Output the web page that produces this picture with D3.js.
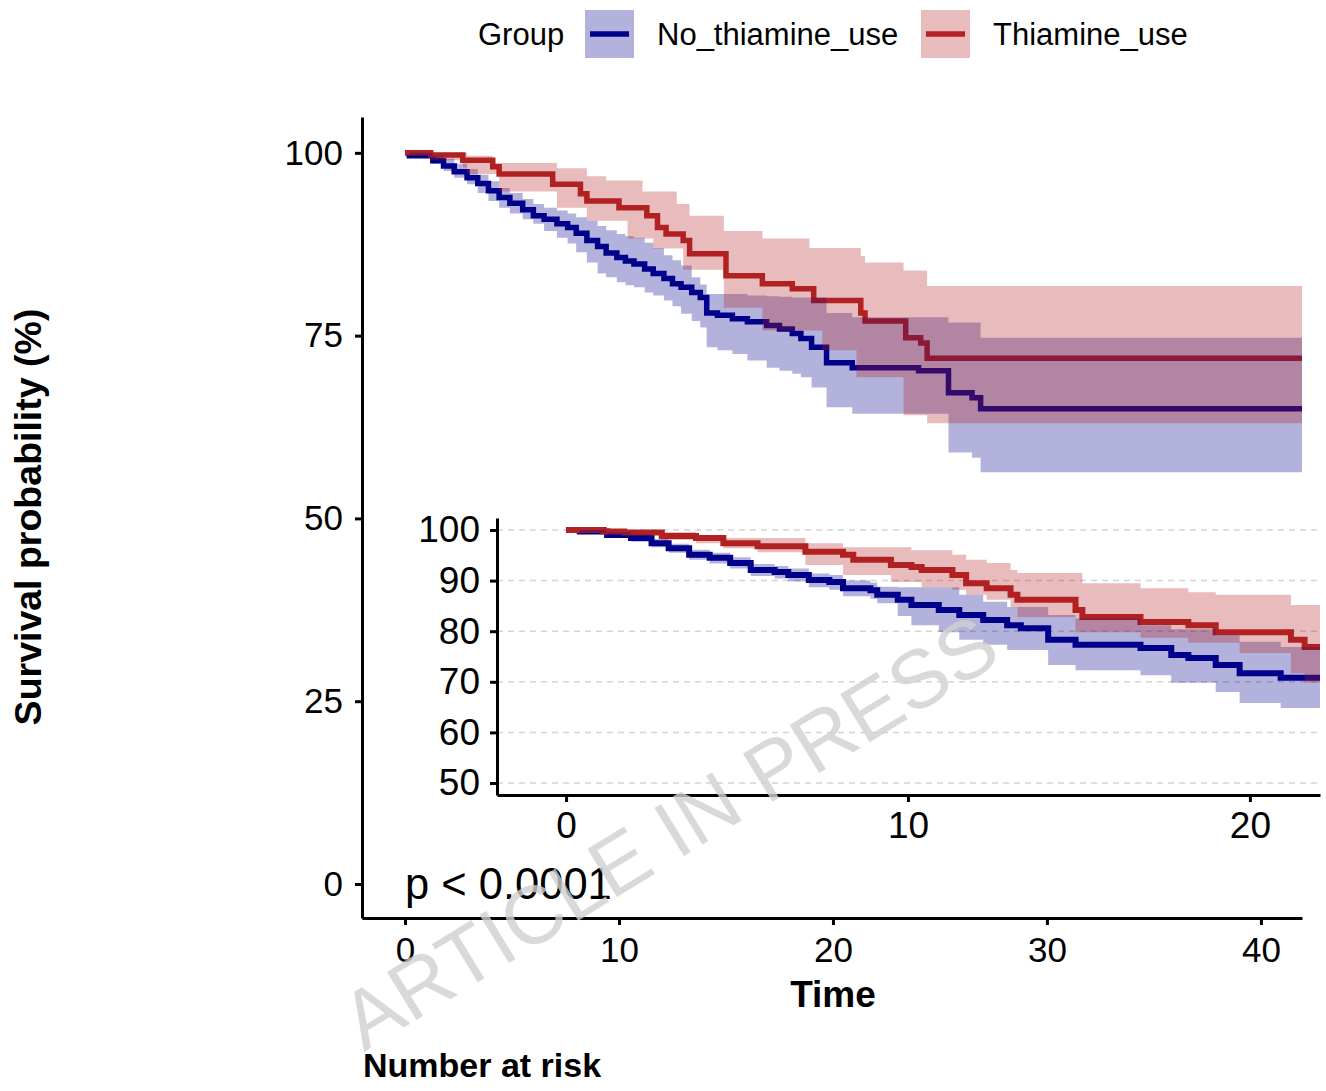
<!DOCTYPE html>
<html>
<head>
<meta charset="utf-8">
<script src="https://cdn.jsdelivr.net/npm/d3@7"></script>
<style>
  body { margin: 0; background: #fff; }
  text { font-family: "Liberation Sans", Arial, sans-serif; }
</style>
</head>
<body>
<svg width="1326" height="1091"></svg>
<script>
// groups and colours
var groups = ["No_thiamine_use", "Thiamine_use"];
var colors = ["#00008B", "#B22222"];

var mainTicksX = [0, 10, 20, 30, 40];
var mainTicksY = [0, 25, 50, 75, 100];
var insetTicksX = [0, 10, 20];
var insetTicksY = [50, 60, 70, 80, 90, 100];

// main plot, No_thiamine_use
var noTimeMain  = [0, 0.2, 1.3, 1.8, 2.3, 2.9, 3.4, 3.9, 4.4, 4.9, 5.5, 6.0, 6.5, 7.1, 7.6, 8.0, 8.5, 9.0, 9.4, 9.9, 10.3, 10.7, 11.2, 11.6, 12.1, 12.5, 12.9, 13.4, 13.8, 14.1, 14.6, 15.3, 16.0, 16.9, 17.5, 18.1, 18.5, 19.0, 19.7, 20.9, 24.0, 25.4, 26.5, 26.9, 41.92];
var noSurvMain  = [100, 99.6, 98.9, 98.2, 97.4, 96.6, 95.8, 94.8, 93.9, 93.1, 92.2, 91.4, 90.9, 90.3, 89.8, 89.0, 88.0, 87.2, 86.3, 85.7, 85.2, 84.8, 84.1, 83.5, 82.8, 82.1, 81.6, 80.9, 80.2, 78.1, 77.8, 77.3, 76.9, 76.4, 75.9, 75.3, 74.6, 73.4, 71.3, 70.6, 70.2, 67.2, 66.5, 65.0, 65.0];
var noUpperMain = [100, 100, 99.6, 99.2, 98.5, 97.8, 97.0, 96.1, 95.2, 94.5, 93.7, 93.0, 92.5, 92.1, 91.7, 91.2, 90.7, 90.0, 89.4, 88.9, 88.6, 88.4, 87.7, 87.0, 86.0, 85.3, 84.6, 83.0, 82.0, 80.7, 80.7, 80.7, 80.5, 80.4, 80.3, 80.2, 80.2, 80.2, 78.1, 77.5, 77.5, 76.8, 76.8, 74.7, 74.7];
var noLowerMain = [100, 99.3, 98.5, 97.5, 96.6, 95.7, 94.5, 93.4, 92.5, 91.7, 90.9, 90.3, 89.3, 88.4, 87.6, 86.4, 85.0, 83.5, 83.0, 82.3, 81.9, 81.6, 80.9, 80.5, 79.8, 79.0, 78.0, 77.0, 76.1, 73.4, 73.0, 72.5, 71.6, 70.6, 70.2, 69.8, 69.3, 67.9, 65.2, 64.3, 64.3, 59.0, 58.3, 56.3, 56.3];

// main plot, Thiamine_use
var thTimeMain  = [0, 1.2, 2.7, 2.9, 4.1, 4.4, 6.9, 7.1, 8.2, 8.5, 9.4, 10.0, 10.4, 11.1, 11.3, 11.6, 11.8, 12.2, 12.7, 13.0, 13.3, 14.9, 15.0, 16.7, 18.1, 18.9, 19.1, 19.5, 21.1, 21.3, 21.5, 23.3, 23.4, 24.1, 24.4, 41.92];
var thSurvMain  = [100, 99.7, 99.0, 99.0, 98.1, 97.1, 95.7, 95.7, 94.4, 93.4, 93.4, 92.5, 92.5, 92.5, 91.4, 91.4, 89.8, 88.9, 88.9, 88.0, 86.2, 86.2, 83.2, 82.1, 81.4, 81.4, 79.8, 79.8, 79.8, 78.1, 77.0, 77.0, 74.7, 74.0, 71.9, 71.9];
var thUpperMain = [100, 100, 100, 99.6, 98.6, 98.6, 98.6, 97.9, 97.9, 96.8, 96.2, 96.2, 96.2, 94.7, 94.7, 94.7, 94.7, 94.7, 93.0, 93.0, 91.4, 89.3, 89.3, 88.3, 88.3, 87.0, 87.0, 87.0, 87.0, 85.9, 85.0, 83.9, 83.9, 83.9, 81.8, 81.8];
var thLowerMain = [100, 99.0, 98.0, 97.1, 97.1, 94.7, 94.7, 92.5, 92.5, 90.7, 90.7, 90.7, 88.3, 88.3, 88.3, 86.9, 86.9, 86.9, 86.9, 84.0, 84.0, 78.8, 78.8, 75.7, 75.7, 75.7, 75.7, 73.0, 69.3, 69.3, 69.3, 64.1, 64.1, 64.1, 63.0, 63.0];

// inset, No_thiamine_use
var noTimeInset  = [0, 0.4, 1.2, 1.9, 2.5, 3.0, 3.6, 4.2, 4.8, 5.4, 6.1, 6.5, 7.1, 7.7, 8.1, 8.9, 9.1, 9.7, 10.1, 10.9, 11.5, 12.2, 12.9, 13.3, 14.1, 14.9, 16.8, 17.7, 18.2, 19.0, 19.7, 20.9, 22.05];
var noSurvInset  = [100, 99.7, 99.0, 98.4, 97.4, 96.4, 95.1, 94.5, 93.5, 92.1, 91.7, 91.1, 90.1, 89.7, 88.5, 88.1, 87.2, 86.2, 85.2, 84.2, 83.2, 82.2, 81.2, 80.6, 78.3, 77.3, 76.7, 75.3, 74.7, 73.3, 71.7, 70.8, 70.8];
var noUpperInset = [100, 100, 99.6, 99.1, 98.2, 97.3, 96.1, 95.5, 94.6, 93.3, 92.9, 92.4, 91.4, 91.1, 90.0, 89.6, 88.8, 88.7, 88.7, 88.7, 87.2, 85.8, 84.8, 84.8, 83.2, 82.5, 81.2, 80.4, 80.4, 79.2, 77.9, 76.9, 76.9];
var noLowerInset = [100, 99.4, 98.4, 97.7, 96.6, 95.5, 94.1, 93.4, 92.4, 90.9, 90.4, 89.8, 88.7, 88.2, 86.9, 86.4, 85.5, 83.0, 81.2, 79.8, 78.3, 77.3, 76.3, 76.3, 73.3, 72.3, 71.3, 69.8, 69.8, 68.0, 65.8, 64.8, 64.8];

// inset, Thiamine_use
var thTimeInset  = [0, 1.1, 1.7, 2.8, 3.8, 4.6, 5.6, 7.0, 8.1, 8.4, 9.5, 10.1, 10.4, 11.3, 11.7, 12.3, 13.0, 13.2, 14.9, 15.1, 16.8, 18.2, 19.0, 19.7, 21.2, 21.6, 22.05];
var thSurvInset  = [100, 99.7, 99.5, 98.8, 98.4, 97.4, 96.8, 95.7, 95.1, 94.1, 93.1, 92.7, 92.1, 91.1, 89.5, 88.5, 87.2, 86.2, 84.2, 82.8, 81.8, 81.2, 79.8, 79.8, 78.3, 76.9, 76.9];
var thUpperInset = [100, 100, 100, 99.6, 99.0, 98.4, 98.4, 97.4, 96.6, 96.6, 96.6, 96.0, 96.0, 95.1, 94.1, 93.5, 92.1, 91.5, 91.5, 89.5, 88.5, 87.7, 87.2, 87.2, 85.2, 85.2, 85.2];
var thLowerInset = [100, 99.3, 99.0, 98.0, 97.4, 96.4, 95.6, 93.1, 91.1, 91.1, 89.7, 89.7, 88.7, 88.2, 87.2, 86.2, 84.8, 82.8, 79.8, 79.8, 78.7, 77.7, 77.7, 75.7, 71.7, 69.8, 69.8];

function rows(time, surv, upper, lower) {
  return time.map(function(t, i) {
    return { t: t, s: surv[i], u: upper[i], l: lower[i] };
  });
}

var mainSeries = [
  rows(noTimeMain, noSurvMain, noUpperMain, noLowerMain),
  rows(thTimeMain, thSurvMain, thUpperMain, thLowerMain)
];
var insetSeries = [
  rows(noTimeInset, noSurvInset, noUpperInset, noLowerInset),
  rows(thTimeInset, thSurvInset, thUpperInset, thLowerInset)
];

var svg = d3.select("svg");

function drawCurves(g, x, y, series, lw) {
  var line = d3.line()
      .x(function(d) { return x(d.t); })
      .y(function(d) { return y(d.s); })
      .curve(d3.curveStepAfter);
  var band = d3.area()
      .x(function(d) { return x(d.t); })
      .y0(function(d) { return y(d.l); })
      .y1(function(d) { return y(d.u); })
      .curve(d3.curveStepAfter);

  // steps first, confidence bands over them (as survminer does)
  series.forEach(function(s, i) {
    g.append("path").datum(s)
      .attr("d", line)
      .attr("fill", "none")
      .attr("stroke", colors[i])
      .attr("stroke-width", lw);
  });
  series.forEach(function(s, i) {
    g.append("path").datum(s)
      .attr("d", band)
      .attr("fill", colors[i])
      .attr("fill-opacity", 0.3);
  });
}

function styleAxis(a, size) {
  a.select(".domain").attr("stroke", "#000").attr("stroke-width", 3);
  a.selectAll(".tick line").attr("stroke", "#000").attr("stroke-width", 3);
  a.selectAll(".tick text").attr("fill", "#000").style("font-size", size + "px");
}

// ---- main panel
var x = d3.scaleLinear().domain([-2.01, 41.92]).range([362, 1302]);
var y = d3.scaleLinear().domain([-4.65, 104.9]).range([918, 117]);

var gMain = svg.append("g");
drawCurves(gMain, x, y, mainSeries, 5.5);

var ax = svg.append("g")
    .attr("transform", "translate(0,918)")
    .call(d3.axisBottom(x).tickValues(mainTicksX).tickSize(7).tickSizeOuter(0).tickPadding(12));
styleAxis(ax, 35);

var ay = svg.append("g")
    .attr("transform", "translate(362,0)")
    .call(d3.axisLeft(y).tickValues(mainTicksY).tickSize(7).tickSizeOuter(0).tickPadding(12));
styleAxis(ay, 35);

// ---- inset panel
var xi = d3.scaleLinear().domain([-2.02, 22.05]).range([497, 1320]);
var yi = d3.scaleLinear().domain([47.63, 102.37]).range([795, 518]);

var gInset = svg.append("g");
gInset.selectAll(".grid")
  .data(insetTicksY)
  .enter()
  .append("line")
    .attr("x1", xi.range()[0])
    .attr("x2", xi.range()[1])
    .attr("y1", function(d) { return yi(d); })
    .attr("y2", function(d) { return yi(d); })
    .attr("stroke", "#d4d4d4")
    .attr("stroke-width", 1.5)
    .attr("stroke-dasharray", "6,5");

drawCurves(gInset, xi, yi, insetSeries, 6);

var axi = svg.append("g")
    .attr("transform", "translate(0,795)")
    .call(d3.axisBottom(xi).tickValues(insetTicksX).tickSize(7).tickSizeOuter(0).tickPadding(10));
styleAxis(axi, 37);

var ayi = svg.append("g")
    .attr("transform", "translate(497,0)")
    .call(d3.axisLeft(yi).tickValues(insetTicksY).tickSize(7).tickSizeOuter(0).tickPadding(10));
styleAxis(ayi, 37);

// ---- titles and annotations
svg.append("text")
    .attr("transform", "translate(41,517) rotate(-90)")
    .attr("text-anchor", "middle")
    .style("font-size", "37.5px")
    .style("font-weight", "bold")
    .text("Survival probability (%)");

svg.append("text")
    .attr("x", 833).attr("y", 1007)
    .attr("text-anchor", "middle")
    .style("font-size", "37px")
    .style("font-weight", "bold")
    .text("Time");

svg.append("text")
    .attr("x", 363).attr("y", 1077)
    .style("font-size", "34px")
    .style("font-weight", "bold")
    .text("Number at risk");

svg.append("text")
    .attr("x", 405).attr("y", 899)
    .style("font-size", "43.5px")
    .text("p < 0.0001");

// ---- legend
var legend = svg.append("g");
legend.append("text")
    .attr("x", 478).attr("y", 45)
    .style("font-size", "31px")
    .text("Group");

var keyX = [585, 921];
groups.forEach(function(name, i) {
  var k = legend.append("g").attr("transform", "translate(" + keyX[i] + ",10)");
  k.append("rect")
    .attr("width", 49).attr("height", 48)
    .attr("fill", colors[i]).attr("fill-opacity", 0.3);
  k.append("line")
    .attr("x1", 5).attr("x2", 44)
    .attr("y1", 24).attr("y2", 24)
    .attr("stroke", colors[i]).attr("stroke-width", 5.5);
  legend.append("text")
    .attr("x", keyX[i] + 72).attr("y", 45)
    .style("font-size", "31px")
    .text(name);
});

// ---- watermark
svg.append("text")
    .attr("transform", "translate(364,1052) rotate(-31.5)")
    .style("font-size", "82px")
    .attr("fill", "#cfcfcf")
    .attr("fill-opacity", 0.8)
    .text("ARTICLE IN PRESS");
</script>
</body>
</html>
